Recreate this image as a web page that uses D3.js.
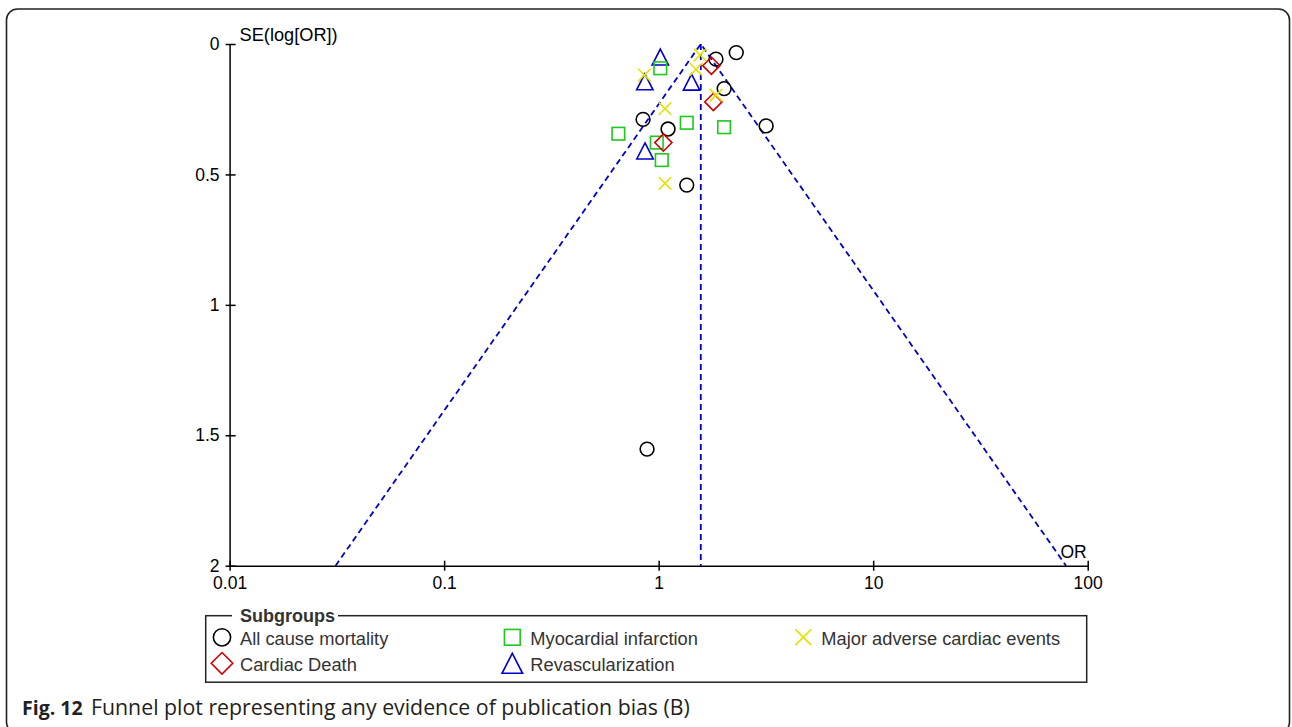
<!DOCTYPE html>
<html>
<head>
<meta charset="utf-8">
<script src="https://cdn.jsdelivr.net/npm/d3@7"></script>
<style>
  html, body { margin: 0; padding: 0; background: #fff; }
  svg { display: block; }
</style>
</head>
<body>
<svg id="chart" width="1292" height="727"></svg>
<script>
// Study estimates per subgroup: odds ratio and standard error of log(OR)
const subgroups = ["All cause mortality", "Myocardial infarction", "Major adverse cardiac events", "Cardiac Death", "Revascularization"];

const mortalityOR = [2.30, 1.85, 2.02, 3.17, 0.846, 1.106, 1.352, 0.883];
const mortalitySE = [0.033, 0.058, 0.171, 0.314, 0.289, 0.326, 0.541, 1.553];

const infarctionOR = [1.018, 0.649, 1.352, 2.018, 0.980, 1.034];
const infarctionSE = [0.093, 0.344, 0.302, 0.319, 0.378, 0.445];

const maceOR = [1.560, 1.494, 0.858, 1.071, 1.852, 1.071];
const maceSE = [0.042, 0.097, 0.119, 0.248, 0.196, 0.534];

const cardiacDeathOR = [1.761, 1.799, 1.052];
const cardiacDeathSE = [0.083, 0.222, 0.378];

const revascOR = [1.018, 0.862, 1.424, 0.864];
const revascSE = [0.050, 0.145, 0.146, 0.410];

// Pooled estimate defining the funnel apex
const pooledOR = 1.572;
const funnelZ = 1.96;

const xTicks = [0.01, 0.1, 1, 10, 100];
const xTickLabels = ["0.01", "0.1", "1", "10", "100"];
const yTicks = [0, 0.5, 1, 1.5, 2];
const yTickLabels = ["0", "0.5", "1", "1.5", "2"];

const colors = {
  mortality: "#000000",
  infarction: "#1ec81e",
  mace: "#e2e200",
  cardiac: "#d00000",
  revasc: "#0000c8"
};

const svg = d3.select("#chart");

// Outer rounded frame
svg.append("rect")
  .attr("x", 6.5).attr("y", 9)
  .attr("width", 1283).attr("height", 724)
  .attr("rx", 11).attr("ry", 11)
  .attr("fill", "none")
  .attr("stroke", "#222")
  .attr("stroke-width", 1.6);

const x = d3.scaleLog().domain([0.01, 100]).range([229.6, 1087.7]);
const y = d3.scaleLinear().domain([0, 2]).range([44, 565.7]);

const axisFont = "Liberation Sans, Arial, sans-serif";

// Funnel: pseudo 95% limits and pooled line
const seMax = 2;
const funnel = svg.append("g")
  .attr("fill", "none")
  .attr("stroke", "#0000c8")
  .attr("stroke-width", 1.8)
  .attr("stroke-dasharray", "6,4");

const line = d3.line().x(d => x(d[0])).y(d => y(d[1]));
funnel.append("path").attr("d", line([[pooledOR * Math.exp(-funnelZ * seMax), seMax], [pooledOR, 0], [pooledOR * Math.exp(funnelZ * seMax), seMax]]));
funnel.append("path").attr("d", line([[pooledOR, 0], [pooledOR, seMax]]));

// Axes
const xAxis = d3.axisBottom(x)
  .tickValues(xTicks)
  .tickFormat((d, i) => xTickLabels[i])
  .tickSizeInner(5)
  .tickSizeOuter(0)
  .tickPadding(6);

const gx = svg.append("g")
  .attr("transform", `translate(0,${y(2)})`)
  .call(xAxis);
gx.selectAll(".tick line").attr("y1", -5).attr("y2", 5).attr("stroke-width", 1.5);
gx.select(".domain").attr("stroke-width", 1.5);
gx.selectAll("text").attr("font-family", axisFont).attr("font-size", 17.5).attr("fill", "#000");

const yAxis = d3.axisLeft(y)
  .tickValues(yTicks)
  .tickFormat((d, i) => yTickLabels[i])
  .tickSizeInner(4)
  .tickSizeOuter(0)
  .tickPadding(6);

const gy = svg.append("g")
  .attr("transform", `translate(${x(0.01)},0)`)
  .call(yAxis);
gy.selectAll(".tick line").attr("x1", 6).attr("x2", -4).attr("stroke-width", 1.5);
gy.select(".domain").attr("stroke-width", 1.5);
gy.selectAll("text").attr("font-family", axisFont).attr("font-size", 17.5).attr("fill", "#000");

svg.append("text")
  .attr("x", x(0.01) + 10).attr("y", 41)
  .attr("font-family", axisFont).attr("font-size", 18.2)
  .text("SE(log[OR])");

svg.append("text")
  .attr("x", x(100) - 1).attr("y", 558)
  .attr("text-anchor", "end")
  .attr("font-family", axisFont).attr("font-size", 17.5)
  .text("OR");

// Marker shapes, drawn at (cx, cy) with scale s
function drawMarker(g, type, cx, cy, color, s) {
  const common = sel => sel.attr("fill", "none").attr("stroke", color).attr("stroke-width", 1.6);
  if (type === "circle") {
    g.append("circle").attr("cx", cx).attr("cy", cy).attr("r", 6.9 * s).call(common);
  } else if (type === "square") {
    const h = 6.3 * s;
    g.append("rect").attr("x", cx - h).attr("y", cy - h).attr("width", 2 * h).attr("height", 2 * h).call(common);
  } else if (type === "diamond") {
    const h = 8.6 * s;
    g.append("path").attr("d", `M${cx},${cy - h}L${cx + h},${cy}L${cx},${cy + h}L${cx - h},${cy}Z`).call(common);
  } else if (type === "triangle") {
    const w = 8.2 * s, h = 8 * s;
    g.append("path").attr("d", `M${cx},${cy - h}L${cx + w},${cy + h}L${cx - w},${cy + h}Z`).call(common);
  } else if (type === "cross") {
    const h = 6.3 * s;
    g.append("path").attr("d", `M${cx - h},${cy - h}L${cx + h},${cy + h}M${cx - h},${cy + h}L${cx + h},${cy - h}`).call(common);
  }
}

const series = [
  { type: "triangle", color: colors.revasc, or: revascOR, se: revascSE },
  { type: "circle", color: colors.mortality, or: mortalityOR, se: mortalitySE },
  { type: "square", color: colors.infarction, or: infarctionOR, se: infarctionSE },
  { type: "diamond", color: colors.cardiac, or: cardiacDeathOR, se: cardiacDeathSE },
  { type: "cross", color: colors.mace, or: maceOR, se: maceSE }
];

const pts = svg.append("g");
series.forEach(s => {
  s.or.forEach((v, i) => drawMarker(pts, s.type, x(v), y(s.se[i]), s.color, 1));
});

// Legend
const legendFont = "Liberation Sans, Arial, sans-serif";
const lg = svg.append("g");
lg.append("rect")
  .attr("x", 205.7).attr("y", 615.7)
  .attr("width", 881).attr("height", 66.5)
  .attr("fill", "none").attr("stroke", "#222").attr("stroke-width", 1.5);
lg.append("rect")
  .attr("x", 232).attr("y", 610).attr("width", 106).attr("height", 10)
  .attr("fill", "#fff");
lg.append("text")
  .attr("x", 240).attr("y", 621.7)
  .attr("font-family", legendFont).attr("font-size", 18).attr("font-weight", "bold")
  .attr("fill", "#333")
  .text("Subgroups");

const legendItems = [
  { label: subgroups[0], type: "circle", color: colors.mortality, col: 0, row: 0 },
  { label: subgroups[1], type: "square", color: colors.infarction, col: 1, row: 0 },
  { label: subgroups[2], type: "cross", color: colors.mace, col: 2, row: 0 },
  { label: subgroups[3], type: "diamond", color: colors.cardiac, col: 0, row: 1 },
  { label: subgroups[4], type: "triangle", color: colors.revasc, col: 1, row: 1 }
];
const colX = [222, 512.3, 803.3];
const rowY = [637.3, 663.3];
legendItems.forEach(it => {
  const mx = colX[it.col], my = rowY[it.row];
  drawMarker(lg, it.type, mx, my, it.color, 1.25);
  lg.append("text")
    .attr("x", mx + 18).attr("y", my + 7.7)
    .attr("font-family", legendFont).attr("font-size", 18.3)
    .attr("fill", "#333")
    .text(it.label);
});

// Caption
const capFont = "Open Sans, sans-serif";
svg.append("text")
  .attr("x", 22).attr("y", 715)
  .attr("font-family", capFont).attr("font-size", 19.5).attr("font-weight", "bold")
  .attr("fill", "#231f20")
  .text("Fig. 12");
svg.append("text")
  .attr("x", 91).attr("y", 715)
  .attr("font-family", capFont).attr("font-size", 21.3)
  .attr("fill", "#231f20")
  .text("Funnel plot representing any evidence of publication bias (B)");
</script>
</body>
</html>
